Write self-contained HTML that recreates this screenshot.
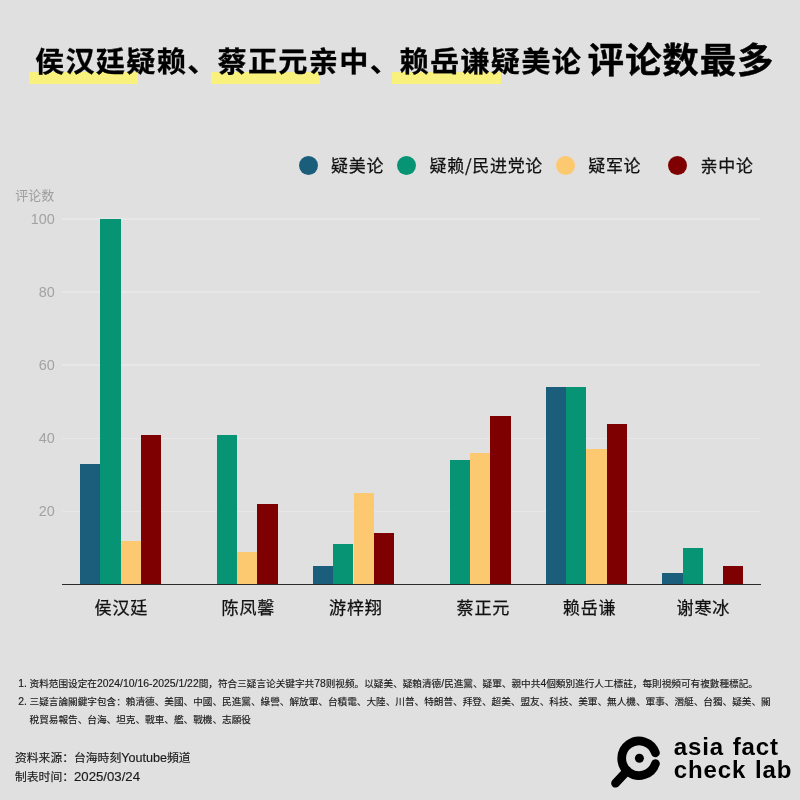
<!DOCTYPE html>
<html lang="zh">
<head>
<meta charset="utf-8">
<title>评论数最多</title>
<style>
html,body{margin:0;padding:0;}
body{width:800px;height:800px;background:#e0e0e0;position:relative;overflow:hidden;font-family:"Liberation Sans","Noto Sans CJK SC",sans-serif;color:#000;}
.abs{position:absolute;}
#title{position:absolute;left:0;top:30px;width:800px;height:70px;white-space:nowrap;}
#title span{position:absolute;font-family:"Noto Sans CJK SC","Liberation Sans",sans-serif;font-weight:700;line-height:1;white-space:pre;}
.t1{font-size:29.2px;top:14.6px;letter-spacing:1.25px;-webkit-text-stroke:0.3px #000;transform:scaleY(0.97);transform-origin:0 50%;}
.t2{font-size:36.5px;top:9.7px;letter-spacing:0.85px;-webkit-text-stroke:0.4px #000;transform:scaleY(0.98);transform-origin:0 50%;}
.hl{position:absolute;background:#f9f17e;height:11.6px;top:72.1px;}
.grid{position:absolute;left:62px;width:698px;height:1.5px;background:#e7e7e7;}
.ytick{position:absolute;left:0;width:54.7px;text-align:right;font-size:14.4px;line-height:20px;color:#a2a2a2;font-family:"Liberation Sans",sans-serif;}
.bar{position:absolute;}
.xlab{position:absolute;top:593.6px;white-space:nowrap;letter-spacing:0.8px;-webkit-text-stroke:0.25px #111;font-size:17.1px;line-height:26px;font-family:"Noto Sans CJK SC","Liberation Sans",sans-serif;color:#111;}
#axis{position:absolute;left:61.5px;top:583.8px;width:699px;height:1.2px;background:#2b2b2b;}
#ytitle{position:absolute;left:15.3px;top:186.6px;font-size:13px;line-height:16px;color:#9d9d9d;font-family:"Noto Sans CJK SC",sans-serif;}
.ldot{position:absolute;top:156px;width:19px;height:19px;border-radius:50%;}
.ltxt{position:absolute;top:152.4px;letter-spacing:0.7px;-webkit-text-stroke:0.25px #111;font-size:17px;line-height:26px;font-family:"Noto Sans CJK SC","Liberation Sans",sans-serif;color:#111;white-space:nowrap;}
.note{position:absolute;left:18.3px;-webkit-text-stroke:0.15px #1a1a1a;font-size:9.63px;line-height:18px;color:#1a1a1a;white-space:nowrap;font-family:"Liberation Sans","Noto Sans CJK SC",sans-serif;}
.note b{font-weight:400;display:inline-block;width:11.3px;font-size:10.4px;}
.note i{font-style:normal;font-size:10.4px;}
.src i{font-style:normal;}
.src{position:absolute;left:15px;-webkit-text-stroke:0.15px #1a1a1a;font-size:11.8px;line-height:18px;color:#1a1a1a;white-space:nowrap;font-family:"Liberation Sans","Noto Sans CJK SC",sans-serif;}
#logotxt{position:absolute;left:673.8px;top:735px;font-family:"Liberation Sans",sans-serif;font-weight:700;font-size:24px;line-height:23.2px;color:#000;white-space:nowrap;letter-spacing:0.9px;word-spacing:1px;}
</style>
</head>
<body>
<div class="hl" style="left:28.5px;width:109.6px"></div>
<div class="hl" style="left:210.6px;width:109.2px"></div>
<div class="hl" style="left:391.9px;width:108.7px"></div>
<div id="title">
<span class="t1" style="left:35px">侯汉廷疑赖、</span>
<span class="t1" style="left:217.5px">蔡正元亲中、</span>
<span class="t1" style="left:399.5px">赖岳谦疑美论</span>
<span class="t2" style="left:587.6px">评论数最多</span>
</div>
<div class="ldot" style="left:298.80px;background:#1b5e7b"></div><div class="ltxt" style="left:331.00px">疑美论</div>
<div class="ldot" style="left:397.10px;background:#079474"></div><div class="ltxt" style="left:429.50px">疑赖/民进党论</div>
<div class="ldot" style="left:556.00px;background:#fdc970"></div><div class="ltxt" style="left:588.20px">疑军论</div>
<div class="ldot" style="left:668.00px;background:#7f0000"></div><div class="ltxt" style="left:700.60px">亲中论</div>
<div id="ytitle">评论数</div>
<div class="grid" style="top:510.62px"></div>
<div class="ytick" style="top:501.32px">20</div>
<div class="grid" style="top:437.54px"></div>
<div class="ytick" style="top:428.24px">40</div>
<div class="grid" style="top:364.46px"></div>
<div class="ytick" style="top:355.16px">60</div>
<div class="grid" style="top:291.38px"></div>
<div class="ytick" style="top:282.08px">80</div>
<div class="grid" style="top:218.30px"></div>
<div class="ytick" style="top:209.00px">100</div>
<div class="bar" style="left:80.00px;top:463.82px;width:20.30px;height:120.58px;background:#1b5e7b"></div>
<div class="bar" style="left:100.30px;top:219.00px;width:20.30px;height:365.40px;background:#079474"></div>
<div class="bar" style="left:120.60px;top:540.55px;width:20.30px;height:43.85px;background:#fdc970"></div>
<div class="bar" style="left:140.90px;top:434.59px;width:20.30px;height:149.81px;background:#7f0000"></div>
<div class="xlab" style="left:94.50px">侯汉廷</div>
<div class="bar" style="left:216.75px;top:434.59px;width:20.30px;height:149.81px;background:#079474"></div>
<div class="bar" style="left:237.05px;top:551.51px;width:20.30px;height:32.89px;background:#fdc970"></div>
<div class="bar" style="left:257.35px;top:504.01px;width:20.30px;height:80.39px;background:#7f0000"></div>
<div class="xlab" style="left:221.50px">陈凤馨</div>
<div class="bar" style="left:312.90px;top:566.13px;width:20.30px;height:18.27px;background:#1b5e7b"></div>
<div class="bar" style="left:333.20px;top:544.21px;width:20.30px;height:40.19px;background:#079474"></div>
<div class="bar" style="left:353.50px;top:493.05px;width:20.30px;height:91.35px;background:#fdc970"></div>
<div class="bar" style="left:373.80px;top:533.24px;width:20.30px;height:51.16px;background:#7f0000"></div>
<div class="xlab" style="left:329.00px">游梓翔</div>
<div class="bar" style="left:449.65px;top:460.16px;width:20.30px;height:124.24px;background:#079474"></div>
<div class="bar" style="left:469.95px;top:452.86px;width:20.30px;height:131.54px;background:#fdc970"></div>
<div class="bar" style="left:490.25px;top:416.32px;width:20.30px;height:168.08px;background:#7f0000"></div>
<div class="xlab" style="left:456.50px">蔡正元</div>
<div class="bar" style="left:545.80px;top:387.08px;width:20.30px;height:197.32px;background:#1b5e7b"></div>
<div class="bar" style="left:566.10px;top:387.08px;width:20.30px;height:197.32px;background:#079474"></div>
<div class="bar" style="left:586.40px;top:449.20px;width:20.30px;height:135.20px;background:#fdc970"></div>
<div class="bar" style="left:606.70px;top:423.62px;width:20.30px;height:160.78px;background:#7f0000"></div>
<div class="xlab" style="left:562.75px">赖岳谦</div>
<div class="bar" style="left:662.25px;top:573.44px;width:20.30px;height:10.96px;background:#1b5e7b"></div>
<div class="bar" style="left:682.55px;top:547.86px;width:20.30px;height:36.54px;background:#079474"></div>
<div class="bar" style="left:723.15px;top:566.13px;width:20.30px;height:18.27px;background:#7f0000"></div>
<div class="xlab" style="left:676.50px">谢寒冰</div>
<div id="axis"></div>
<div class="note" style="top:675px"><b>1.</b>资料范围设定在<i>2024/10/16-2025/1/22</i>間，符合三疑言论关键字共<i>78</i>则视频。以疑美、疑賴清德<i>/</i>民進黨、疑軍、親中共<i>4</i>個類別進行人工標註，每則視頻可有複數種標記。</div>
<div class="note" style="top:692.6px"><b>2.</b>三疑言論關鍵字包含：賴清德、美國、中國、民進黨、綠營、解放軍、台積電、大陸、川普、特朗普、拜登、超美、盟友、科技、美軍、無人機、軍事、潛艇、台獨、疑美、關</div>
<div class="note" style="top:710.5px"><b></b>稅貿易報告、台海、坦克、戰車、艦、戰機、志願役</div>
<div class="src" style="top:749px">资料来源：台海時刻<i style="font-size:12.6px">Youtube</i>頻道</div>
<div class="src" style="top:767.5px">制表时间：<i style="font-size:13.2px">2025/03/24</i></div>
<svg class="abs" style="left:600px;top:725px" width="80" height="75" viewBox="600 725 80 75">
<path d="M 655.45 752.9 A 17.3 17.3 0 1 0 655.45 763.6" fill="none" stroke="#000" stroke-width="8.7" stroke-linecap="round"/>
<line x1="615.5" y1="783.2" x2="627.2" y2="770.7" stroke="#000" stroke-width="8.7" stroke-linecap="round"/>
<circle cx="639.4" cy="758.2" r="4.5" fill="#000"/>
</svg>
<div id="logotxt">asia fact<br>check lab</div>
</body>
</html>
